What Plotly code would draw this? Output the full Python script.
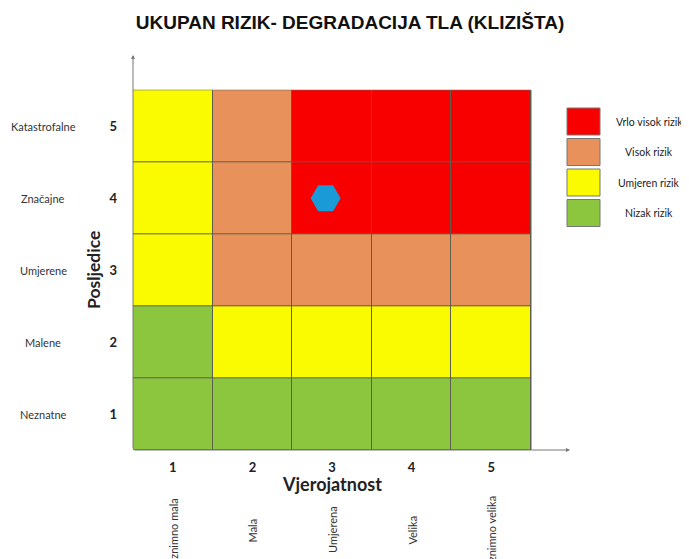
import plotly.graph_objects as go

# risk matrix: rows = posljedice 1..5, cols = vjerojatnost 1..5
# 0 = nizak, 1 = umjeren, 2 = visok, 3 = vrlo visok
x_vals = [1, 2, 3, 4, 5]
y_vals = [1, 2, 3, 4, 5]
risk = [
    [0, 0, 0, 0, 0],
    [0, 1, 1, 1, 1],
    [1, 2, 2, 2, 2],
    [1, 2, 3, 3, 3],
    [1, 2, 3, 3, 3],
]
y_names = ["Neznatne", "Malene", "Umjerene", "Značajne", "Katastrofalne"]
x_names = ["Iznimno mala", "Mala", "Umjerena", "Velika", "Iznimno velika"]

legend_labels = ["Vrlo visok rizik", "Visok rizik", "Umjeren rizik", "Nizak rizik"]
legend_colors = ["#F80000", "#E8915A", "#FAFA00", "#8CC63F"]

point_x = [2.92]
point_y = [4.0]

GREEN, YELLOW, ORANGE, RED = "#8CC63F", "#FAFA00", "#E8915A", "#F80000"
FONT = "Lato"

# page body has an 8px margin, so the figure starts at (8, 8)
OFF = 8
W, H = 689 - OFF, 559 - OFF
PL, PR, PT, PB = 133, 570, 55, 450   # plot area in page pixels
L, T = PL - OFF, PT - OFF
R, B = W - (PR - OFF), H - (PB - OFF)
pw, ph = PR - PL, PB - PT


def px_x(p):
    return (p - PL) / pw


def px_y(p):
    return (PB - p) / ph


fig = go.Figure()
fig.add_trace(go.Heatmap(
    x=x_vals, y=y_vals, z=risk, zmin=0, zmax=3,
    colorscale=[[0, GREEN], [0.25, GREEN], [0.25, YELLOW], [0.5, YELLOW],
                [0.5, ORANGE], [0.75, ORANGE], [0.75, RED], [1, RED]],
    showscale=False, xgap=1, ygap=1, hoverinfo="skip"))

fig.add_trace(go.Scatter(
    x=point_x, y=point_y, mode="markers",
    marker=dict(symbol="hexagon2", size=30, color="#1A9AD6"),
    hoverinfo="skip", showlegend=False))

# dark backing rectangle so the heatmap gaps read as cell borders
fig.add_shape(type="rect", xref="x", yref="y", x0=0.5, x1=5.5, y0=0.5, y1=5.5,
              fillcolor="#5E5E4E", line=dict(color="#5E5E4E", width=1), layer="below")

ann = []
# axis arrows
ann.append(dict(x=0.5, y=5.99, ax=0.5, ay=0.5, xref="x", yref="y", axref="x", ayref="y",
                showarrow=True, arrowhead=2, arrowsize=0.8, arrowwidth=1, arrowcolor="#777", text=""))
ann.append(dict(x=5.99, y=0.5, ax=0.5, ay=0.5, xref="x", yref="y", axref="x", ayref="y",
                showarrow=True, arrowhead=2, arrowsize=0.8, arrowwidth=1, arrowcolor="#777", text=""))

for yv, name in zip(y_vals, y_names):
    ann.append(dict(x=px_x(43), y=yv, xref="paper", yref="y", text=name, showarrow=False,
                    xanchor="center", yanchor="middle",
                    font=dict(family=FONT, size=11, color="#333")))

for xv, name in zip(x_vals, x_names):
    ann.append(dict(x=xv, y=px_y(530), xref="x", yref="paper", text=name, showarrow=False,
                    textangle=-90, xanchor="center", yanchor="middle",
                    font=dict(family=FONT, size=11, color="#333")))

ann.append(dict(x=px_x(93), y=px_y(270), xref="paper", yref="paper", text="<b>Posljedice</b>",
                showarrow=False, textangle=-90, xanchor="center", yanchor="middle",
                font=dict(family=FONT, size=17.5, color="#222")))
ann.append(dict(x=px_x(332), y=px_y(484), xref="paper", yref="paper", text="<b>Vjerojatnost</b>",
                showarrow=False, xanchor="center", yanchor="middle",
                font=dict(family=FONT, size=18, color="#222")))

# manual legend
box_top = 108
for i, (lab, col) in enumerate(zip(legend_labels, legend_colors)):
    top = box_top + i * 30.5
    fig.add_shape(type="rect", xref="paper", yref="paper",
                  x0=px_x(567), x1=px_x(600), y0=px_y(top), y1=px_y(top + 27),
                  fillcolor=col, line=dict(color="#777", width=1))
    ann.append(dict(x=px_x(649), y=px_y(top + 13.5), xref="paper", yref="paper", text=lab,
                    showarrow=False, xanchor="center", yanchor="middle",
                    font=dict(family=FONT, size=10.5, color="#222")))

fig.update_layout(
    width=W, height=H,
    margin=dict(l=L, r=R, t=T, b=B),
    paper_bgcolor="white", plot_bgcolor="white",
    title=dict(text="<b>UKUPAN RIZIK- DEGRADACIJA TLA (KLIZIŠTA)</b>",
               x=(350 - OFF) / W, xanchor="center",
               y=1 - (22 - OFF) / H, yanchor="middle",
               font=dict(family="Liberation Sans", size=19, color="#111")),
    annotations=ann,
    showlegend=False,
)
fig.update_xaxes(range=[0.5, 5.99], tickvals=x_vals, showgrid=False, zeroline=False,
                 showline=False, ticks="", ticklabelstandoff=8,
                 tickfont=dict(family=FONT, size=13, color="#222", weight="bold"))
fig.update_yaxes(range=[0.5, 5.99], tickvals=y_vals, showgrid=False, zeroline=False,
                 showline=False, ticks="", ticklabelstandoff=15,
                 tickfont=dict(family=FONT, size=13, color="#222", weight="bold"))

fig.write_html("out.html")
